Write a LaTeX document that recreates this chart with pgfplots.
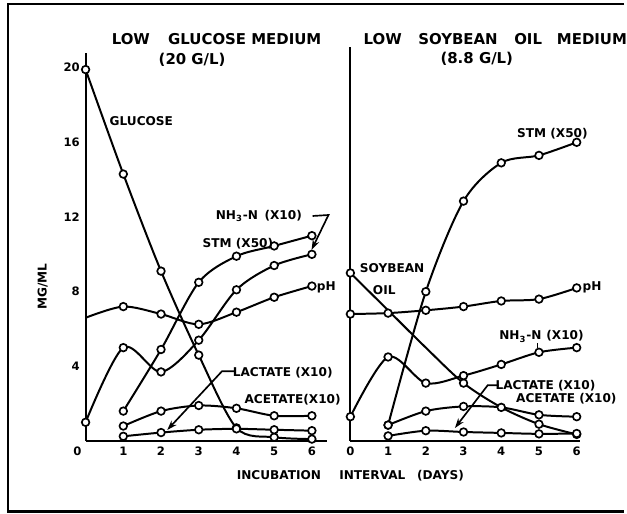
\documentclass[border=0pt]{standalone}
\usepackage{fontspec}
\setmainfont{DejaVu Sans}
\usepackage{pgfplots}
\pgfplotsset{compat=1.18}
\usetikzlibrary{arrows.meta}

\newcommand{\lbl}{\fontsize{7.3}{8}\selectfont\bfseries}
\newcommand{\ttl}{\fontsize{9}{10}\selectfont\bfseries}

\pgfplotsset{
  panel/.style={
    scale only axis, axis lines=left,
    axis line style={-, line width=1.3pt},
    xmin=0, ymin=0, xtick={0,...,6}, major tick length=0pt, clip=false,
    tick label style={font=\fontsize{7}{8}\selectfont\bfseries},
    /pgf/number format/assume math mode=true,
  },
  crv/.style={black, solid, line width=1.2pt, smooth, mark=*, mark size=2.3pt,
    mark options={fill=white, draw=black, solid, line width=1pt}},
}

\begin{document}
\begin{tikzpicture}
\begin{scope}[x=0.6pt,y=0.6pt]
\path[use as bounding box] (0,0) rectangle (627,516);
\end{scope}

% low glucose medium
\begin{axis}[panel, at={(51.6pt,43.8pt)}, anchor=south west,
  width=145.5pt, height=234pt, xmax=6.4, ymax=20.8, ytick={4,8,12,16,20},
  xtick={1,...,6}, extra x ticks={0},
  extra x tick style={xticklabel style={xshift=-5pt}}]
  \addplot[crv] coordinates {(0,19.9) (1,14.3) (2,9.1) (3,4.6) (4,0.7) (5,0.2) (6,0.1)};
  \addplot[crv, mark indices={2,3,4,5,6,7}] coordinates {(0,6.6) (1,7.2) (2,6.8) (3,6.25) (4,6.9) (5,7.7) (6,8.3)};
  \addplot[crv] coordinates {(0,1.0) (1,5.0) (2,3.7) (3,5.4) (4,8.1) (5,9.4) (6,10.0)};
  \addplot[crv] coordinates {(1,1.6) (2,4.9) (3,8.5) (4,9.9) (5,10.45) (6,11.0)};
  \addplot[crv] coordinates {(1,0.8) (2,1.6) (3,1.9) (4,1.75) (5,1.35) (6,1.35)};
  \addplot[crv] coordinates {(1,0.25) (2,0.45) (3,0.6) (4,0.65) (5,0.6) (6,0.55)};
\end{axis}

% low soybean oil medium
\begin{axis}[panel, at={(211.2pt,43.8pt)}, anchor=south west,
  width=138.7pt, height=237.4pt, xmax=6.1, ymax=21.1, ytick=\empty]
  \addplot[crv] coordinates {(1,0.85) (2,8.0) (3,12.85) (4,14.9) (5,15.3) (6,16.0)};
  \addplot[crv] coordinates {(0,6.8) (1,6.85) (2,7.0) (3,7.2) (4,7.5) (5,7.6) (6,8.2)};
  \addplot[crv, mark indices={1,4,6,7}] coordinates {(0,9.0) (1,7.0) (2,5.0) (3,3.1) (4,1.8) (5,0.9) (6,0.35)};
  \addplot[crv] coordinates {(0,1.3) (1,4.5) (2,3.1) (3,3.5) (4,4.1) (5,4.75) (6,5.0)};
  \addplot[crv] coordinates {(1,0.85) (2,1.6) (3,1.85) (4,1.8) (5,1.4) (6,1.3)};
  \addplot[crv] coordinates {(1,0.27) (2,0.55) (3,0.48) (4,0.43) (5,0.38) (6,0.4)};
\end{axis}

\begin{scope}[x=0.6pt,y=0.6pt, every node/.style={inner sep=0pt}]
  % frame
  \draw[line width=1.5pt] (627,512) -- (8,512) -- (8,2) -- (627,2);
  % titles
  \node[anchor=west, font=\ttl] at (112,477) {LOW\hspace{11pt}GLUCOSE MEDIUM};
  \node[font=\ttl] at (193,456) {(20 G/L)};
  \node[anchor=west, font=\ttl] at (365,477) {LOW\hspace{10pt}SOYBEAN\hspace{10pt}OIL\hspace{9pt}MEDIUM};
  \node[font=\ttl] at (479,457) {(8.8 G/L)};
  % axis labels
  \node[font=\lbl, rotate=90] at (43,228) {MG/ML};
  \node[font=\lbl] at (352,38) {INCUBATION\hspace{11pt}INTERVAL\hspace{7pt}(DAYS)};
  % left panel labels
  \node[font=\lbl] at (142,394) {GLUCOSE};
  \node[font=\lbl] at (260,299) {NH\textsubscript{3}-N\hspace{4pt}(X10)};
  \node[font=\lbl] at (239,271) {STM (X50)};
  \node[font=\lbl, anchor=west] at (318,227) {pH};
  \node[font=\lbl] at (284,142) {LACTATE (X10)};
  \node[font=\lbl] at (294,114) {ACETATE(X10)};
  \draw[line width=1pt, -{Stealth[length=6pt,width=4pt]}] (314,299) -- (330,300) -- (313,265);
  \draw[line width=1pt, -{Stealth[length=6pt,width=4pt]}] (236,143) -- (223,143) -- (168,84);
  % right panel labels
  \node[font=\lbl] at (555,382) {STM (X50)};
  \node[font=\lbl] at (394,247) {SOYBEAN};
  \node[font=\lbl] at (386,225) {OIL};
  \node[font=\lbl, anchor=west] at (585,227) {pH};
  \node[font=\lbl] at (544,178) {NH\textsubscript{3}-N\hspace{3pt}(X10)};
  \node[font=\lbl] at (548,129) {LACTATE (X10)};
  \node[font=\lbl] at (569,115) {ACETATE (X10)};
  \draw[line width=1pt, -{Stealth[length=6pt,width=4pt]}] (501,129) -- (490,129) -- (457,86);
  \draw[line width=0.8pt] (540,171) -- (540,166);
\end{scope}
\end{tikzpicture}
\end{document}
